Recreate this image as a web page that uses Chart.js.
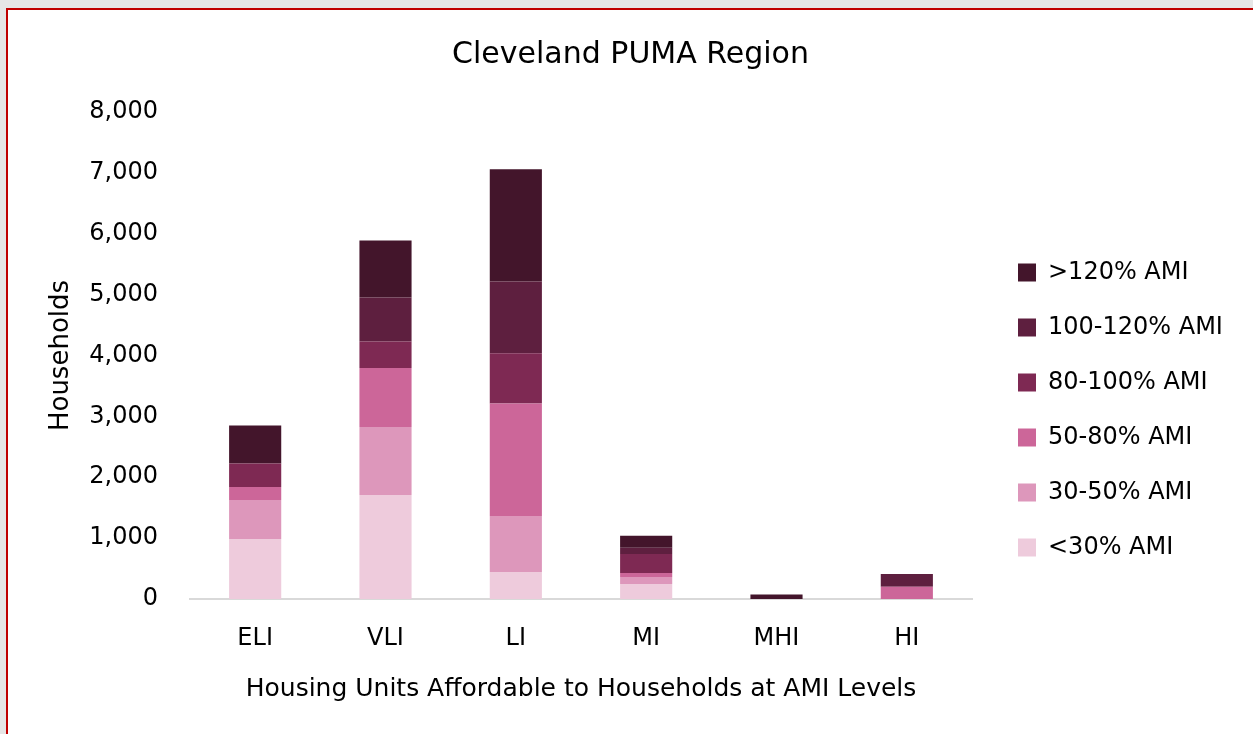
<!DOCTYPE html>
<html>
<head>
<meta charset="utf-8">
<script src="https://cdn.jsdelivr.net/npm/chart.js@4"></script>
<style>
  html, body { margin: 0; padding: 0; background: #e6e6e6; overflow: hidden; }
  #frame { position: absolute; left: 6px; top: 8px; width: 1247px; height: 726px;
           border-left: 2px solid #c00000; border-top: 2px solid #c00000; background: #fff; }
  #wrap { position: absolute; left: 0; top: 0; width: 1245px; height: 724px; }
</style>
</head>
<body>
<div id="frame"><div id="wrap"><canvas id="amiChart"></canvas></div></div>
<script>
// categories on the x axis
var categories = ["ELI", "VLI", "LI", "MI", "MHI", "HI"];

// household counts per AMI band (bottom of the stack first)
var under30  = [985, 1708, 443, 246, 0, 0];
var ami30_50 = [640, 1117, 920, 115, 0, 0];
var ami50_80 = [213, 969, 1850, 66, 0, 200];
var ami80_100 = [389, 438, 826, 312, 0, 0];
var ami100_120 = [0, 722, 1177, 104, 0, 210];
var over120  = [624, 936, 1844, 197, 72, 0];

var seriesLabels = ["<30% AMI", "30-50% AMI", "50-80% AMI", "80-100% AMI", "100-120% AMI", ">120% AMI"];
var colorArray = ["#eecbdc", "#dd97bb", "#cc6699", "#7e2953", "#5e1f3f", "#43152b"];

var yTicks = { min: 0, max: 8000, step: 1000 };

Chart.defaults.font.family = "'DejaVu Sans', sans-serif";
Chart.defaults.color = "#000";

var seriesData = [under30, ami30_50, ami50_80, ami80_100, ami100_120, over120];
var datasets = [];
for (var i = 0; i < seriesData.length; i++) {
    datasets.push({
        label: seriesLabels[i],
        data: seriesData[i],
        backgroundColor: colorArray[i],
        borderWidth: 0,
        barPercentage: 0.4,
        categoryPercentage: 1.0
    });
}

// legend: fixed width, then nudged right/down like the original
var legendTweak = {
    id: 'legendTweak',
    afterInit: function (chart) {
        var lg = chart.legend;
        var origFit = lg.fit;
        lg.fit = function () {
            origFit.call(this);
            this.width = 281;
        };
    },
    afterLayout: function (chart) {
        var lg = chart.legend;
        lg.left += 15; lg.right += 15;
        lg.top += 38; lg.bottom += 38;
    }
};

var ctx = document.getElementById("amiChart").getContext("2d");
window.myBar = new Chart(ctx, {
    type: 'bar',
    data: { labels: categories, datasets: datasets },
    plugins: [legendTweak],
    options: {
        responsive: true,
        maintainAspectRatio: false,
        animation: false,
        layout: { padding: 0 },
        plugins: {
            title: {
                display: true,
                text: "Cleveland PUMA Region",
                font: { size: 30, weight: 'normal' },
                color: "#000",
                padding: { top: 27, bottom: 39 }
            },
            legend: {
                position: 'right',
                reverse: true,
                labels: {
                    boxWidth: 18,
                    boxHeight: 18,
                    padding: 31,
                    font: { size: 24 },
                    color: "#000"
                }
            },
            tooltip: { enabled: false }
        },
        scales: {
            x: {
                stacked: true,
                grid: { display: false, drawTicks: false },
                border: { display: true, color: "#d9d9d9", width: 2 },
                ticks: { padding: 25, font: { size: 24 }, color: "#000" },
                title: {
                    display: true,
                    text: "Housing Units Affordable to Households at AMI Levels",
                    font: { size: 25 },
                    color: "#000",
                    padding: { top: 0, bottom: 30 }
                },
                afterFit: function (scale) { scale.height = 135; }
            },
            y: {
                stacked: true,
                min: yTicks.min,
                max: yTicks.max,
                grid: { display: false, drawTicks: false },
                border: { display: false },
                ticks: { stepSize: yTicks.step, padding: 32, font: { size: 24 }, color: "#000" },
                title: {
                    display: true,
                    text: "Households",
                    font: { size: 26 },
                    color: "#000",
                    padding: { top: 38, bottom: 0 }
                },
                afterFit: function (scale) { scale.width = 182; }
            }
        }
    }
});
</script>
</body>
</html>
